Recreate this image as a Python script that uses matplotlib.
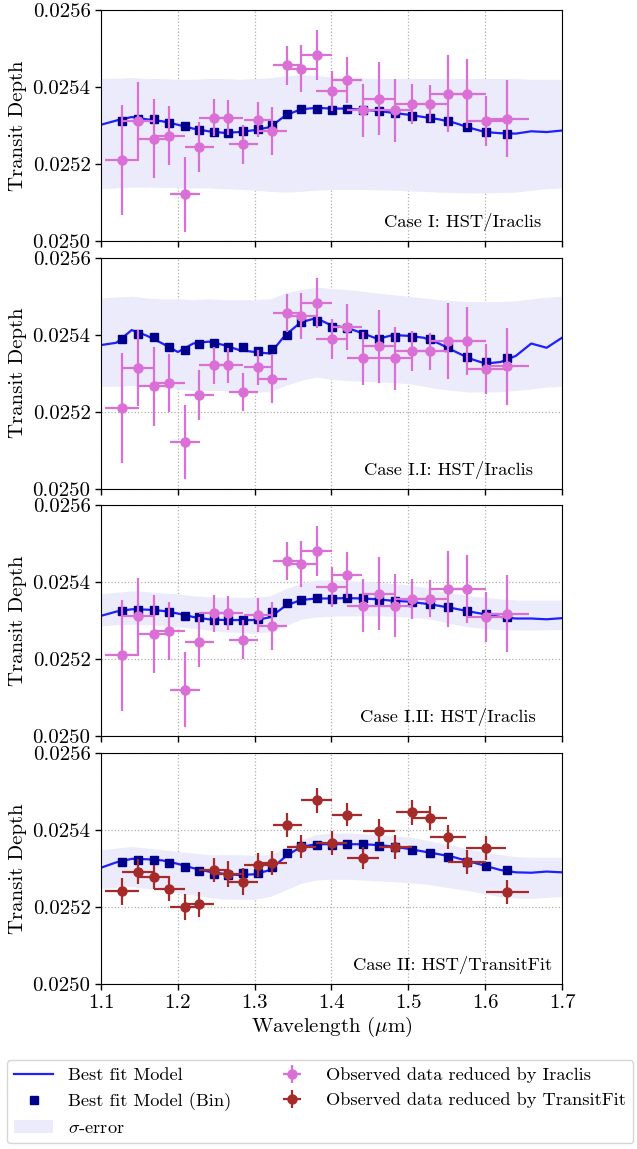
import numpy as np
import matplotlib
matplotlib.use('Agg')
import matplotlib.pyplot as plt

plt.rcParams['font.family'] = 'serif'
plt.rcParams['font.serif'] = ['cmr10']
plt.rcParams['mathtext.fontset'] = 'cm'
plt.rcParams['axes.unicode_minus'] = False
plt.rcParams['axes.formatter.use_mathtext'] = True

# Observed spectral bins (um)
wl_bins = [1.1269, 1.1485, 1.1689, 1.1889, 1.2092, 1.2279, 1.2469, 1.2656, 1.2851, 1.3046,
           1.3228, 1.3423, 1.3609, 1.3805, 1.4004, 1.4203, 1.4411, 1.4619, 1.4832, 1.5053,
           1.5278, 1.5517, 1.5764, 1.6015, 1.6288]
wl_halfwidth = [0.022, 0.021, 0.020, 0.020, 0.019, 0.019, 0.019, 0.019, 0.019, 0.019,
                0.019, 0.019, 0.019, 0.020, 0.020, 0.020, 0.021, 0.021, 0.021, 0.022,
                0.023, 0.024, 0.025, 0.026, 0.028]

# Iraclis reduction
iraclis_depth = [0.025210, 0.025313, 0.025266, 0.025274, 0.025121, 0.025244, 0.025320, 0.025320,
                 0.025251, 0.025315, 0.025286, 0.025456, 0.025448, 0.025482, 0.025389, 0.025419,
                 0.025339, 0.025370, 0.025339, 0.025357, 0.025357, 0.025383, 0.025383, 0.025311,
                 0.025318]
iraclis_err = [1.43e-4, 0.99e-4, 1.02e-4, 0.76e-4, 0.97e-4, 0.65e-4, 0.48e-4, 0.45e-4, 0.50e-4,
               0.45e-4, 0.63e-4, 0.50e-4, 0.60e-4, 0.65e-4, 0.52e-4, 0.60e-4, 0.69e-4, 0.95e-4,
               0.82e-4, 0.52e-4, 0.48e-4, 0.99e-4, 0.89e-4, 0.65e-4, 1.00e-4]

# TransitFit reduction
transitfit_depth = [0.025241, 0.025292, 0.025279, 0.025248, 0.025200, 0.025207, 0.025296, 0.025286,
                    0.025266, 0.025309, 0.025314, 0.025412, 0.025357, 0.025477, 0.025366, 0.025440,
                    0.025327, 0.025398, 0.025356, 0.025446, 0.025431, 0.025382, 0.025316, 0.025353,
                    0.025238]
transitfit_err = [0.35e-4, 0.33e-4, 0.31e-4, 0.33e-4, 0.33e-4, 0.32e-4, 0.31e-4, 0.33e-4, 0.34e-4,
                  0.32e-4, 0.31e-4, 0.31e-4, 0.31e-4, 0.32e-4, 0.32e-4, 0.30e-4, 0.29e-4, 0.30e-4,
                  0.31e-4, 0.32e-4, 0.30e-4, 0.31e-4, 0.31e-4, 0.32e-4, 0.31e-4]

# Model wavelength grid (um)
wl_model = [1.10, 1.12, 1.14, 1.16, 1.18, 1.20, 1.22, 1.24, 1.26, 1.28, 1.30, 1.32, 1.34, 1.36,
            1.38, 1.40, 1.42, 1.44, 1.46, 1.48, 1.50, 1.52, 1.54, 1.56, 1.58, 1.60, 1.62, 1.64,
            1.66, 1.68, 1.70]

# Case I
model_1 = [0.025302, 0.025313, 0.025322, 0.025316, 0.025311, 0.025302, 0.025292, 0.025285,
           0.025281, 0.025283, 0.025288, 0.025296, 0.025326, 0.025342, 0.025346, 0.025344,
           0.025344, 0.025341, 0.025338, 0.025333, 0.025328, 0.025322, 0.025316, 0.025307,
           0.025294, 0.025283, 0.025280, 0.025279, 0.025285, 0.025283, 0.025287]
upper_1 = [0.025422, 0.025423, 0.025425, 0.025422, 0.025422, 0.025420, 0.025420, 0.025422,
           0.025422, 0.025420, 0.025422, 0.025424, 0.025429, 0.025432, 0.025430, 0.025426,
           0.025424, 0.025423, 0.025422, 0.025422, 0.025422, 0.025422, 0.025422, 0.025422,
           0.025422, 0.025422, 0.025422, 0.025422, 0.025420, 0.025420, 0.025420]
lower_1 = [0.025136, 0.025138, 0.025140, 0.025140, 0.025139, 0.025139, 0.025138, 0.025138,
           0.025136, 0.025134, 0.025132, 0.025129, 0.025127, 0.025129, 0.025132, 0.025134,
           0.025134, 0.025134, 0.025133, 0.025132, 0.025130, 0.025129, 0.025127, 0.025126,
           0.025125, 0.025125, 0.025126, 0.025127, 0.025132, 0.025136, 0.025138]
binned_1 = [0.025313, 0.025316, 0.025316, 0.025306, 0.025300, 0.025289, 0.025283, 0.025281,
            0.025286, 0.025290, 0.025302, 0.025329, 0.025342, 0.025344, 0.025341, 0.025344,
            0.025341, 0.025338, 0.025333, 0.025326, 0.025320, 0.025311, 0.025296, 0.025283,
            0.025279]

# Case I.I
model_2 = [0.025373, 0.025379, 0.025412, 0.025397, 0.025377, 0.025355, 0.025377, 0.025382,
           0.025373, 0.025360, 0.025355, 0.025351, 0.025399, 0.025432, 0.025443, 0.025424,
           0.025418, 0.025404, 0.025389, 0.025399, 0.025397, 0.025392, 0.025377, 0.025357,
           0.025338, 0.025325, 0.025329, 0.025345, 0.025377, 0.025366, 0.025392]
upper_2 = [0.025495, 0.025498, 0.025500, 0.025495, 0.025493, 0.025493, 0.025491, 0.025493,
           0.025491, 0.025491, 0.025491, 0.025493, 0.025508, 0.025517, 0.025523, 0.025520,
           0.025517, 0.025513, 0.025508, 0.025504, 0.025500, 0.025495, 0.025491, 0.025488,
           0.025486, 0.025486, 0.025486, 0.025488, 0.025493, 0.025497, 0.025500]
lower_2 = [0.025266, 0.025266, 0.025268, 0.025266, 0.025264, 0.025259, 0.025255, 0.025255,
           0.025255, 0.025252, 0.025251, 0.025252, 0.025268, 0.025281, 0.025290, 0.025284,
           0.025281, 0.025279, 0.025277, 0.025275, 0.025273, 0.025266, 0.025259, 0.025255,
           0.025251, 0.025251, 0.025252, 0.025255, 0.025259, 0.025264, 0.025266]
binned_2 = [0.025390, 0.025402, 0.025395, 0.025369, 0.025360, 0.025377, 0.025379, 0.025369,
            0.025367, 0.025357, 0.025364, 0.025399, 0.025432, 0.025436, 0.025421, 0.025417,
            0.025401, 0.025390, 0.025395, 0.025395, 0.025389, 0.025369, 0.025342, 0.025329,
            0.025340]

# Case I.II
model_3 = [0.025313, 0.025324, 0.025330, 0.025329, 0.025326, 0.025319, 0.025310, 0.025304,
           0.025302, 0.025302, 0.025302, 0.025309, 0.025339, 0.025354, 0.025358, 0.025358,
           0.025359, 0.025358, 0.025356, 0.025352, 0.025350, 0.025345, 0.025339, 0.025332,
           0.025324, 0.025317, 0.025310, 0.025306, 0.025306, 0.025304, 0.025307]
upper_3 = [0.025370, 0.025374, 0.025378, 0.025376, 0.025372, 0.025370, 0.025365, 0.025363,
           0.025361, 0.025361, 0.025361, 0.025365, 0.025383, 0.025397, 0.025406, 0.025406,
           0.025404, 0.025403, 0.025400, 0.025397, 0.025394, 0.025387, 0.025378, 0.025371,
           0.025365, 0.025361, 0.025357, 0.025354, 0.025354, 0.025354, 0.025354]
lower_3 = [0.025287, 0.025290, 0.025291, 0.025290, 0.025287, 0.025284, 0.025281, 0.025276,
           0.025271, 0.025270, 0.025267, 0.025272, 0.025287, 0.025304, 0.025310, 0.025312,
           0.025313, 0.025313, 0.025313, 0.025312, 0.025310, 0.025307, 0.025300, 0.025291,
           0.025284, 0.025280, 0.025277, 0.025276, 0.025276, 0.025277, 0.025278]
binned_3 = [0.025326, 0.025329, 0.025329, 0.025324, 0.025313, 0.025309, 0.025302, 0.025302,
            0.025302, 0.025304, 0.025322, 0.025346, 0.025355, 0.025358, 0.025357, 0.025358,
            0.025358, 0.025354, 0.025352, 0.025350, 0.025343, 0.025337, 0.025326, 0.025319,
            0.025309]

# Case II
model_4 = [0.025302, 0.025316, 0.025325, 0.025324, 0.025321, 0.025312, 0.025301, 0.025292,
           0.025286, 0.025283, 0.025285, 0.025296, 0.025331, 0.025356, 0.025363, 0.025363,
           0.025363, 0.025363, 0.025361, 0.025357, 0.025351, 0.025344, 0.025337, 0.025329,
           0.025318, 0.025307, 0.025296, 0.025290, 0.025289, 0.025292, 0.025290]
upper_4 = [0.025349, 0.025353, 0.025357, 0.025353, 0.025349, 0.025344, 0.025340, 0.025336,
           0.025336, 0.025336, 0.025334, 0.025336, 0.025353, 0.025375, 0.025388, 0.025392,
           0.025392, 0.025390, 0.025388, 0.025385, 0.025382, 0.025375, 0.025366, 0.025359,
           0.025350, 0.025342, 0.025336, 0.025331, 0.025329, 0.025329, 0.025329]
lower_4 = [0.025248, 0.025251, 0.025253, 0.025248, 0.025244, 0.025237, 0.025231, 0.025225,
           0.025221, 0.025220, 0.025220, 0.025227, 0.025244, 0.025261, 0.025270, 0.025272,
           0.025272, 0.025270, 0.025268, 0.025266, 0.025263, 0.025260, 0.025254, 0.025248,
           0.025242, 0.025234, 0.025227, 0.025223, 0.025222, 0.025225, 0.025227]
binned_4 = [0.025318, 0.025322, 0.025322, 0.025314, 0.025303, 0.025294, 0.025285, 0.025283,
            0.025288, 0.025289, 0.025305, 0.025340, 0.025359, 0.025362, 0.025362, 0.025363,
            0.025363, 0.025359, 0.025356, 0.025349, 0.025340, 0.025331, 0.025318, 0.025307,
            0.025295]

case_labels = ['Case I: HST/Iraclis', 'Case I.I: HST/Iraclis',
               'Case I.II: HST/Iraclis', 'Case II: HST/TransitFit']

panels = [
    (model_1, upper_1, lower_1, binned_1, iraclis_depth, iraclis_err, 'orchid'),
    (model_2, upper_2, lower_2, binned_2, iraclis_depth, iraclis_err, 'orchid'),
    (model_3, upper_3, lower_3, binned_3, iraclis_depth, iraclis_err, 'orchid'),
    (model_4, upper_4, lower_4, binned_4, transitfit_depth, transitfit_err, 'brown'),
]
label_x = [0.954, 0.937, 0.944, 0.978]

fig = plt.figure(figsize=(6.37, 11.49), dpi=100)
gs = fig.add_gridspec(4, 1, left=101/637, right=562/637, top=1 - 10/1149,
                      bottom=1 - 984/1149, hspace=0.072)

handles = {}
for i, (model, up, lo, binned, depth, err, col) in enumerate(panels):
    ax = fig.add_subplot(gs[i])
    band = ax.fill_between(wl_model, lo, up, color='#ebebfb', lw=0, zorder=1)
    line, = ax.plot(wl_model, model, color='#1f1fff', lw=1.6, zorder=2)
    sq, = ax.plot(wl_bins, binned, 's', color='darkblue', ms=5.8, ls='none', zorder=3)
    eb = ax.errorbar(wl_bins, depth, yerr=err, xerr=wl_halfwidth, fmt='o', color=col,
                     ms=6.5, elinewidth=1.6, capsize=0, zorder=4)
    ax.text(label_x[i], 0.06, case_labels[i], transform=ax.transAxes,
            ha='right', va='baseline', fontsize=13.3)

    ax.set_xlim(1.1, 1.7)
    ax.set_ylim(0.0250, 0.0256)
    ax.set_xticks([1.1, 1.2, 1.3, 1.4, 1.5, 1.6, 1.7])
    ax.set_yticks([0.0250, 0.0252, 0.0254, 0.0256])
    ax.set_yticklabels(['0.0250', '0.0252', '0.0254', '0.0256'])
    ax.tick_params(labelsize=15, width=1, length=4)
    ax.grid(True, ls=':', color='#b0b0b0', lw=0.9)
    ax.set_axisbelow(True)
    ax.set_ylabel('Transit Depth', fontsize=15, labelpad=4)
    if i < 3:
        ax.set_xticklabels([])
    else:
        ax.set_xticklabels(['1.1', '1.2', '1.3', '1.4', '1.5', '1.6', '1.7'])
        ax.set_xlabel(r'Wavelength ($\mu$m)', fontsize=15, labelpad=2)

    if i == 0:
        handles['line'] = line
        handles['bin'] = sq
        handles['band'] = band
        handles['iraclis'] = eb
    if i == 3:
        handles['tf'] = eb

fig.legend([handles['line'], handles['bin'], handles['band'], handles['iraclis'], handles['tf']],
           ['Best fit Model', 'Best fit Model (Bin)', r'$\sigma$-error',
            'Observed data reduced by Iraclis', 'Observed data reduced by TransitFit'],
           loc='upper left', bbox_to_anchor=(7/637, 1 - 1060/1149), ncol=2,
           fontsize=13.2, frameon=True, fancybox=True, edgecolor='#cccccc',
           handlelength=2.1, columnspacing=2.3, borderaxespad=0)

fig.savefig('out.png', dpi=100)
